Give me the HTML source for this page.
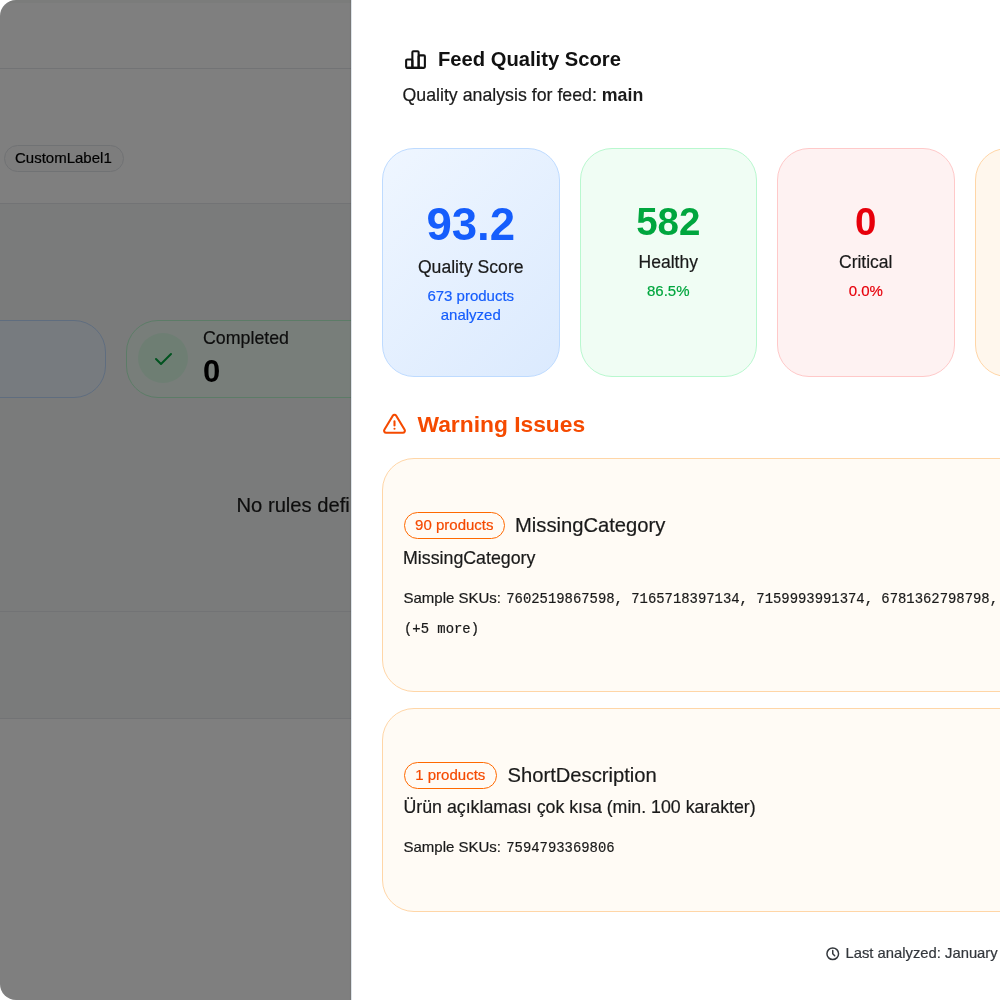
<!DOCTYPE html>
<html lang="en">
<head>
<meta charset="utf-8">
<title>Feed Quality Score</title>
<style>
*{box-sizing:border-box;margin:0;padding:0}
html,body{width:1000px;height:1000px;overflow:hidden;background:#fff}
body{font-family:"Liberation Sans",Arial,sans-serif;color:#1a1a1a;position:relative;-webkit-text-stroke:0.2px}
b,[style*="font-weight:700"]{-webkit-text-stroke:0}
.abs{position:absolute;white-space:nowrap;line-height:1}
.frame{position:absolute;left:0;top:0;width:1000px;height:1000px;border-radius:16px 0 0 16px;overflow:hidden;background:#fff}
/* background page */
.bg-top{position:absolute;left:0;top:0;width:1000px;height:3px;background:#f6f8f6}
.hline{position:absolute;left:0;width:1000px;height:1px;background:#e5e7eb}
.tint{position:absolute;left:0;top:204px;width:1000px;height:514px;background:#f5f7f6}
.chip-bg{position:absolute;left:4px;top:145px;width:120px;height:27px;border:1px solid #e1e4e8;border-radius:14px;background:#fafafa;font-size:15px;color:#1e2939;padding-left:10px;line-height:23px;color:#000}
.stat-bg{position:absolute;top:320px;height:78px;border-radius:32px}
.overlay{position:absolute;left:0;top:0;width:1000px;height:1000px;background:rgba(0,0,0,.5)}
/* panel */
.panel{position:absolute;left:351px;top:0;width:700px;height:1000px;background:#fff;border-left:1px solid #dde3e8;box-shadow:-1px 0 1px rgba(0,0,0,.06)}
.card{position:absolute;top:148px;width:177.5px;height:228.5px;border-radius:32px;border:1px solid}
.c-blue{background:linear-gradient(135deg,#eff6ff 0%,#dbeafe 100%);border-color:#bedbff}
.c-green{background:#f0fdf4;border-color:#b9f8cf}
.c-red{background:#fef2f2;border-color:#ffc9c9}
.c-orange{background:#fff7ed;border-color:#ffd6a7}
.ctr{position:absolute;left:0;width:100%;text-align:center;line-height:1;white-space:nowrap}
.warn{position:absolute;left:382px;width:700px;border-radius:32px;border:1px solid #ffd6a7;background:#fffbf5}
.pill{position:absolute;height:27px;border:1px solid #ff6900;border-radius:14px;color:#f54a00;font-size:15px;line-height:23.4px;text-align:center}
.mono{font-family:"Liberation Mono","DejaVu Sans Mono",monospace}
</style>
</head>
<body>
<div class="frame">
  <!-- underlying page -->
  <div class="bg-top"></div>
  <div class="hline" style="top:68px"></div>
  <div class="chip-bg">CustomLabel1</div>
  <div class="hline" style="top:203px"></div>
  <div class="tint"></div>
  <div class="stat-bg" style="left:-200px;width:306px;background:#eff6ff;border:1px solid #bedbff"></div>
  <div class="stat-bg" style="left:126px;width:400px;background:#f0fdf4;border:1px solid #b9f8cf"></div>
  <div style="position:absolute;left:138px;top:333px;width:50px;height:50px;border-radius:50%;background:#dcfce7"></div>
  <svg style="position:absolute;left:150.5px;top:347.2px" width="24" height="24" viewBox="0 0 24 24" fill="none" stroke="#00a63e" stroke-width="2" stroke-linecap="round" stroke-linejoin="round"><path d="M5 12l5 5l10 -10"/></svg>
  <div class="abs" style="left:203px;top:330px;font-size:17.8px;color:#1a1a1a">Completed</div>
  <div class="abs" style="left:203px;top:356px;font-size:31px;font-weight:700;color:#000">0</div>
  <div class="abs" style="left:236.5px;top:494.6px;font-size:20.2px;color:#1a1a1a">No rules defined</div>
  <div class="hline" style="top:611px"></div>
  <div class="hline" style="top:718px"></div>
  <div class="overlay"></div>

  <!-- panel -->
  <div class="panel"></div>
  <svg style="position:absolute;left:403px;top:46.7px" width="25" height="25" viewBox="0 0 24 24" fill="none" stroke="#111" stroke-width="2" stroke-linecap="round" stroke-linejoin="round"><path d="M3 13a1 1 0 0 1 1 -1h4a1 1 0 0 1 1 1v6a1 1 0 0 1 -1 1h-4a1 1 0 0 1 -1 -1z"/><path d="M15 9a1 1 0 0 1 1 -1h4a1 1 0 0 1 1 1v10a1 1 0 0 1 -1 1h-4a1 1 0 0 1 -1 -1z"/><path d="M9 5a1 1 0 0 1 1 -1h4a1 1 0 0 1 1 1v14a1 1 0 0 1 -1 1h-4a1 1 0 0 1 -1 -1z"/><path d="M4 20h14"/></svg>
  <div class="abs" style="left:438px;top:48.5px;font-size:20.2px;font-weight:700;color:#111">Feed Quality Score</div>
  <div class="abs" style="left:402.5px;top:86.6px;font-size:17.75px;color:#1a1a1a">Quality analysis for feed: <b>main</b></div>

  <div class="card c-blue" style="left:382px">
    <div class="ctr" style="top:52.9px;font-size:45.6px;font-weight:700;color:#155dfc">93.2</div>
    <div class="ctr" style="top:110px;font-size:17.6px;color:#1a1a1a">Quality Score</div>
    <div class="ctr" style="top:137px;font-size:15px;color:#155dfc;line-height:19px;white-space:normal">673 products<br>analyzed</div>
  </div>
  <div class="card c-green" style="left:579.5px">
    <div class="ctr" style="top:53.6px;font-size:38.5px;font-weight:700;color:#00a63e">582</div>
    <div class="ctr" style="top:105px;font-size:17.5px;color:#1a1a1a">Healthy</div>
    <div class="ctr" style="top:134px;font-size:15px;color:#00a63e">86.5%</div>
  </div>
  <div class="card c-red" style="left:777px">
    <div class="ctr" style="top:53.6px;font-size:38.5px;font-weight:700;color:#e7000b">0</div>
    <div class="ctr" style="top:105px;font-size:17.5px;color:#1a1a1a">Critical</div>
    <div class="ctr" style="top:134px;font-size:15px;color:#e7000b">0.0%</div>
  </div>
  <div class="card c-orange" style="left:974.5px"></div>

  <svg style="position:absolute;left:382px;top:412px" width="25" height="25" viewBox="0 0 24 24" fill="none" stroke="#f54a00" stroke-width="2" stroke-linecap="round" stroke-linejoin="round"><path d="M12 9v4"/><path d="M10.363 3.591l-8.106 13.534a1.914 1.914 0 0 0 1.636 2.871h16.214a1.914 1.914 0 0 0 1.636 -2.87l-8.106 -13.536a1.914 1.914 0 0 0 -3.274 0z"/><path d="M12 16h.01"/></svg>
  <div class="abs" style="left:417.5px;top:413.3px;font-size:22.8px;font-weight:700;color:#f54a00">Warning Issues</div>

  <div class="warn" style="top:458.4px;height:234px"></div>
  <div class="pill" style="left:403.6px;top:511.6px;width:101.4px">90 products</div>
  <div class="abs" style="left:515px;top:515px;font-size:20.2px;color:#1a1a1a">MissingCategory</div>
  <div class="abs" style="left:403px;top:549.7px;font-size:17.8px;color:#1a1a1a">MissingCategory</div>
  <div class="abs" style="left:403.5px;top:589.7px;font-size:15px;color:#1a1a1a">Sample SKUs: <span class="mono" style="font-size:13.9px;margin-left:1px">7602519867598, 7165718397134, 7159993991374, 6781362798798, 7171234567890</span></div>
  <div class="abs mono" style="left:404px;top:623px;font-size:13.9px;color:#1a1a1a">(+5 more)</div>

  <div class="warn" style="top:708.4px;height:204px"></div>
  <div class="pill" style="left:403.9px;top:762.3px;width:92.8px">1 products</div>
  <div class="abs" style="left:507.5px;top:765.4px;font-size:20.2px;color:#1a1a1a">ShortDescription</div>
  <div class="abs" style="left:403.5px;top:798.8px;font-size:17.75px;color:#1a1a1a">Ürün açıklaması çok kısa (min. 100 karakter)</div>
  <div class="abs" style="left:403.5px;top:839px;font-size:15px;color:#1a1a1a">Sample SKUs: <span class="mono" style="font-size:13.9px;margin-left:1px">7594793369806</span></div>

  <svg style="position:absolute;left:825px;top:946px" width="15.5" height="15.5" viewBox="0 0 24 24" fill="none" stroke="#33373c" stroke-width="2.3" stroke-linecap="round" stroke-linejoin="round"><path d="M3 12a9 9 0 1 0 18 0a9 9 0 0 0 -18 0"/><path d="M12 7v5l3 3"/></svg>
  <div class="abs" style="left:845.5px;top:945.7px;font-size:14.8px;color:#33373c">Last analyzed: January 15, 2025, 10:30 AM</div>
</div>
</body>
</html>
